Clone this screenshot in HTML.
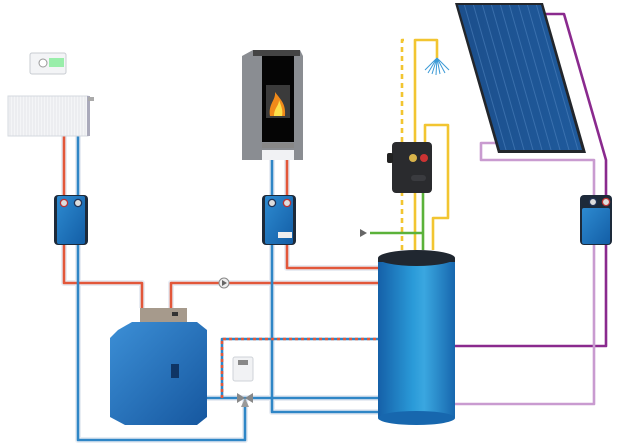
<!DOCTYPE html>
<html><head><style>html,body{margin:0;padding:0;background:#fff}svg{display:block}</style></head>
<body>
<svg width="621" height="447" viewBox="0 0 621 447" xmlns="http://www.w3.org/2000/svg">
<defs>
<linearGradient id="tank" x1="0" x2="1"><stop offset="0" stop-color="#1560a8"/><stop offset="0.45" stop-color="#2a9ad8"/><stop offset="0.6" stop-color="#3aa7e0"/><stop offset="1" stop-color="#1767ae"/></linearGradient>
<linearGradient id="mod" x1="0" x2="1" y1="0" y2="1"><stop offset="0" stop-color="#2d8ad0"/><stop offset="1" stop-color="#135ea6"/></linearGradient>
<linearGradient id="boil" x1="0" x2="1" y1="0" y2="1"><stop offset="0" stop-color="#3c8fd6"/><stop offset="1" stop-color="#16579f"/></linearGradient>
<linearGradient id="sol" x1="0" x2="1"><stop offset="0" stop-color="#1c4f8c"/><stop offset="1" stop-color="#1f5a9c"/></linearGradient>
<pattern id="solp" width="9" height="200" patternUnits="userSpaceOnUse" patternTransform="skewX(16)"><line x1="4" y1="0" x2="4" y2="200" stroke="#4f84c0" stroke-width="0.7"/></pattern>
<pattern id="rad" width="3" height="40" patternUnits="userSpaceOnUse"><rect width="3" height="40" fill="#f4f5f7"/><line x1="1" y1="0" x2="1" y2="40" stroke="#dfe2e7" stroke-width="0.8"/></pattern>
</defs>
<g fill="none" stroke-linejoin="round" stroke-width="6" stroke="#e6ebf2" opacity="0.9">
<path d="M64 136V283H142V308"/><path d="M78 136V440H245V400"/><path d="M171 308V283H380"/><path d="M287 160V268H380"/><path d="M272 160V412H380"/><path d="M207 398H380"/>
</g>
<g fill="none" stroke-linejoin="round" stroke-width="2.6">
<!-- purple -->
<path d="M543 14H564L606 160V346H455" stroke="#8a2a8e"/>
<path d="M500 143H481V160H594V404H455" stroke="#c99bd0"/>
<!-- yellow -->
<path d="M402 250V40H408" stroke="#f2c531" stroke-dasharray="5 4"/>
<path d="M415 250V40H437V58" stroke="#f2c531"/>
<path d="M433 250V218H448V125H425V143" stroke="#f2c531"/>
<!-- green -->
<path d="M423 193V250M370 233H423" stroke="#5bb23a"/>
<!-- red -->
<path d="M64 136V195M64 245V283H142V308" stroke="#e2573a"/>
<path d="M171 308V283H380" stroke="#e2573a"/>
<path d="M287 160V195M287 245V268H380" stroke="#e2573a"/>
<!-- blue -->
<path d="M78 136V195M78 245V440H245V400" stroke="#2f86c6"/>
<path d="M272 160V195M272 245V412H380" stroke="#2f86c6"/>
<path d="M207 398H380" stroke="#2f86c6"/>
<path d="M222 398V339H380" stroke="#2f86c6"/>
<path d="M222 398V339H380" stroke="#e2573a" stroke-dasharray="3 3"/>
</g>
<path d="M360 229L367 233L360 237Z" fill="#666"/>
<!-- pump -->
<circle cx="224" cy="283" r="5" fill="#eee" stroke="#888" stroke-width="1"/><path d="M222 280L227 283L222 286Z" fill="#666"/>
<!-- valve -->
<path d="M237 393L253 403V393L237 403Z" fill="#888"/><path d="M241 407H249L245 398Z" fill="#999"/>
<!-- thermostat -->
<rect x="30" y="53" width="36" height="21" rx="2" fill="#f3f4f6" stroke="#c8ccd2"/><circle cx="43" cy="63" r="4" fill="#fff" stroke="#999"/><rect x="49" y="58" width="15" height="9" fill="#9ea"/>
<!-- radiator -->
<rect x="8" y="96" width="80" height="40" fill="url(#rad)" stroke="#d5d9df"/><rect x="87" y="96" width="3" height="40" fill="#aab"/><rect x="88" y="97" width="6" height="4" fill="#aaa"/>
<!-- modules -->
<g><rect x="54" y="195" width="34" height="50" rx="4" fill="#1d2a3a"/><rect x="57" y="196" width="28" height="48" rx="2" fill="url(#mod)"/><circle cx="64" cy="203" r="3.6" fill="#ddd" stroke="#b33" stroke-width="1.3"/><circle cx="78" cy="203" r="3.6" fill="#ddd" stroke="#235" stroke-width="1.3"/></g>
<g><rect x="262" y="195" width="34" height="50" rx="4" fill="#1d2a3a"/><rect x="265" y="196" width="28" height="48" rx="2" fill="url(#mod)"/><circle cx="272" cy="203" r="3.6" fill="#ddd" stroke="#235" stroke-width="1.3"/><circle cx="287" cy="203" r="3.6" fill="#ddd" stroke="#b33" stroke-width="1.3"/><rect x="278" y="232" width="14" height="6" fill="#eee"/></g>
<g><rect x="580" y="195" width="32" height="50" rx="4" fill="#1d2a3a"/><rect x="582" y="208" width="28" height="36" rx="2" fill="url(#mod)"/><circle cx="593" cy="202" r="3.6" fill="#ddd" stroke="#235" stroke-width="1.3"/><circle cx="606" cy="202" r="3.6" fill="#ddd" stroke="#b33" stroke-width="1.3"/></g>
<!-- hot water module -->
<rect x="392" y="142" width="40" height="51" rx="4" fill="#2a2b2e"/><rect x="387" y="153" width="6" height="10" rx="2" fill="#222"/><circle cx="413" cy="158" r="4" fill="#d8b34a"/><circle cx="424" cy="158" r="4" fill="#c33"/><rect x="411" y="175" width="15" height="6" rx="3" fill="#3a3b3f"/>
<!-- shower -->
<g stroke="#3b9ad6" stroke-width="1"><path d="M437 58L428 73M437 58L432 74M437 58L436 75M437 58L440 74M437 58L445 73M437 58L449 70M437 58L425 70"/></g>
<!-- stove -->
<path d="M242 56L253 50H300L303 56V160H242Z" fill="#8a8d92"/><rect x="253" y="50" width="47" height="6" fill="#444"/><rect x="262" y="56" width="32" height="86" fill="#050505"/><rect x="266" y="85" width="24" height="33" fill="#3b3b3b"/><path d="M270 116C268 104 276 100 275 92C281 100 286 104 285 116Z" fill="#f08a1a"/><path d="M274 116C274 108 279 106 279 100C282 108 283 111 282 116Z" fill="#fde04a"/><rect x="262" y="143" width="32" height="5" fill="#888"/><rect x="262" y="150" width="32" height="10" fill="#f1f2f4"/>
<!-- solar -->
<path d="M455 3H543L586 153H498Z" fill="#23262b"/><path d="M458 5H541L582 150H500Z" fill="url(#sol)"/><path d="M458 5H541L582 150H500Z" fill="url(#solp)" opacity="0.8"/>
<!-- boiler -->
<rect x="140" y="308" width="47" height="17" fill="#a69a8c"/><rect x="172" y="312" width="6" height="4" fill="#333"/>
<path d="M118 330L132 322H197L207 330V417L197 425H125L110 417V338Z" fill="url(#boil)"/><rect x="171" y="364" width="8" height="14" fill="#0f3565"/>
<!-- controller -->
<rect x="233" y="357" width="20" height="24" rx="2" fill="#f1f2f4" stroke="#cfd3d8"/><rect x="238" y="360" width="10" height="5" fill="#888"/>
<!-- tank -->
<rect x="378" y="258" width="77" height="160" fill="url(#tank)"/><ellipse cx="416.5" cy="418" rx="38.5" ry="7" fill="#1767ae"/><ellipse cx="416.5" cy="258" rx="38.5" ry="8" fill="#202730"/><rect x="378" y="258" width="77" height="4" fill="#202730"/>
</svg>
</body></html>
